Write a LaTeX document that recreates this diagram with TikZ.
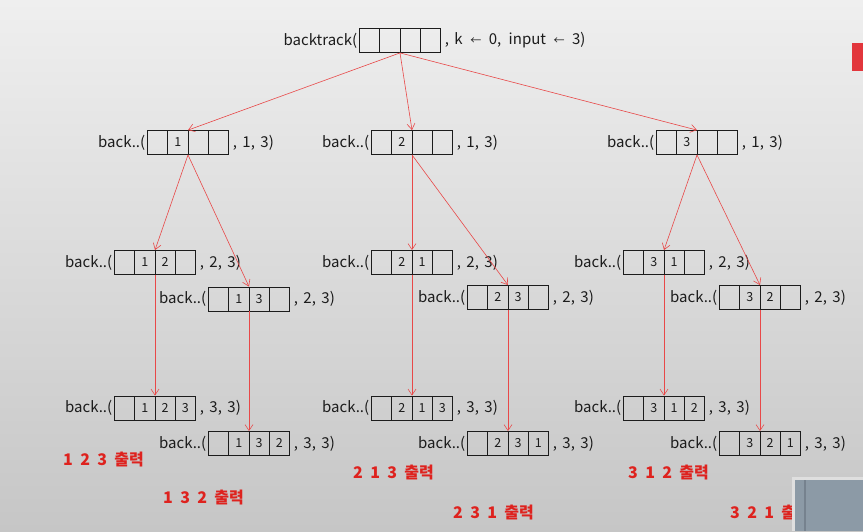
\documentclass[tikz,border=0pt]{standalone}
\usepackage{fontspec}
\setmainfont{Noto Sans CJK KR}
\usetikzlibrary{positioning,shapes.multipart,arrows.meta}

\definecolor{linered}{RGB}{232,72,72}
\definecolor{outred}{RGB}{222,34,30}
\definecolor{txt}{RGB}{28,28,28}
\definecolor{bgtop}{RGB}{239,239,239}
\definecolor{bgmid}{RGB}{232,232,232}
\definecolor{bgbot}{RGB}{198,198,198}
\definecolor{tabred}{RGB}{226,54,60}
\definecolor{panel}{RGB}{140,154,166}
\definecolor{panelline}{RGB}{118,130,142}

\newcommand{\cellbox}[1]{\makebox[19.5pt]{\rule[-8pt]{0pt}{24pt}\fontsize{12.5}{14}\selectfont #1}}
\newcommand{\arr}[4]{\cellbox{#1}\nodepart{two}\cellbox{#2}\nodepart{three}\cellbox{#3}\nodepart{four}\cellbox{#4}}
\newcommand{\assignarrow}{\hspace{2pt}{\fontsize{11}{12}\selectfont ←}\hspace{2pt}}
\newcommand{\callfont}{\fontsize{15}{18}\selectfont\spaceskip=5.5pt plus 1pt\relax}

\begin{document}
\begin{tikzpicture}[x=1pt,y=-1pt,
    slots/.style={draw=txt, line width=0.8pt, rectangle split, rectangle split horizontal, rectangle split parts=4, inner sep=0pt, text=txt},
    call/.style={inner sep=0pt, text=txt, font=\callfont},
    link/.style={draw=linered, line width=0.6pt, -{Straight Barb[length=6pt,width=8pt]}},
    printed/.style={anchor=west, inner sep=0pt, text=outred, font=\fontsize{16}{19}\selectfont\bfseries}]
    \useasboundingbox (0,0) rectangle (863,531);
    \shade[top color=bgtop, middle color=bgmid, bottom color=bgbot] (0,0) rectangle (863,531);

    % Draw first call
    \node[slots] (a) at (400,40.5) {\arr{}{}{}{}};
    \node[call, left=2pt of a] (a-l) {backtrack(};
    \node[call, right=4pt of a] (a-r) {, k \assignarrow{} 0,\hspace{2pt} input \assignarrow{} 3)};

    % Draw calls with k = 1
    \node[slots] (a1) at (188,142.5) {\arr{}{1}{}{}};
    \node[call, left=2pt of a1] (a1-l) {back..(};
    \node[call, right=4pt of a1] (a1-r) {, 1, 3)};
    \node[slots] (a2) at (412,142.5) {\arr{}{2}{}{}};
    \node[call, left=2pt of a2] (a2-l) {back..(};
    \node[call, right=4pt of a2] (a2-r) {, 1, 3)};
    \node[slots] (a3) at (697,142.5) {\arr{}{3}{}{}};
    \node[call, left=2pt of a3] (a3-l) {back..(};
    \node[call, right=4pt of a3] (a3-r) {, 1, 3)};

    % Draw calls with k = 2
    \node[slots] (a12) at (155,262.5) {\arr{}{1}{2}{}};
    \node[call, left=2pt of a12] (a12-l) {back..(};
    \node[call, right=4pt of a12] (a12-r) {, 2, 3)};
    \node[slots] (a13) at (249,299) {\arr{}{1}{3}{}};
    \node[call, left=2pt of a13] (a13-l) {back..(};
    \node[call, right=4pt of a13] (a13-r) {, 2, 3)};
    \node[slots] (a21) at (412,262.5) {\arr{}{2}{1}{}};
    \node[call, left=2pt of a21] (a21-l) {back..(};
    \node[call, right=4pt of a21] (a21-r) {, 2, 3)};
    \node[slots] (a23) at (508,297.5) {\arr{}{2}{3}{}};
    \node[call, left=2pt of a23] (a23-l) {back..(};
    \node[call, right=4pt of a23] (a23-r) {, 2, 3)};
    \node[slots] (a31) at (664,262.5) {\arr{}{3}{1}{}};
    \node[call, left=2pt of a31] (a31-l) {back..(};
    \node[call, right=4pt of a31] (a31-r) {, 2, 3)};
    \node[slots] (a32) at (760,297.5) {\arr{}{3}{2}{}};
    \node[call, left=2pt of a32] (a32-l) {back..(};
    \node[call, right=4pt of a32] (a32-r) {, 2, 3)};

    % Draw calls with k = 3
    \node[slots] (a123) at (155,408) {\arr{}{1}{2}{3}};
    \node[call, left=2pt of a123] (a123-l) {back..(};
    \node[call, right=4pt of a123] (a123-r) {, 3, 3)};
    \node[slots] (a132) at (249,443.5) {\arr{}{1}{3}{2}};
    \node[call, left=2pt of a132] (a132-l) {back..(};
    \node[call, right=4pt of a132] (a132-r) {, 3, 3)};
    \node[slots] (a213) at (412,408) {\arr{}{2}{1}{3}};
    \node[call, left=2pt of a213] (a213-l) {back..(};
    \node[call, right=4pt of a213] (a213-r) {, 3, 3)};
    \node[slots] (a231) at (508,443.5) {\arr{}{2}{3}{1}};
    \node[call, left=2pt of a231] (a231-l) {back..(};
    \node[call, right=4pt of a231] (a231-r) {, 3, 3)};
    \node[slots] (a312) at (664,408) {\arr{}{3}{1}{2}};
    \node[call, left=2pt of a312] (a312-l) {back..(};
    \node[call, right=4pt of a312] (a312-r) {, 3, 3)};
    \node[slots] (a321) at (760,443.5) {\arr{}{3}{2}{1}};
    \node[call, left=2pt of a321] (a321-l) {back..(};
    \node[call, right=4pt of a321] (a321-r) {, 3, 3)};

    % Draw calls
    \draw[link] (a.south) -- (a1.north);
    \draw[link] (a.south) -- (a2.north);
    \draw[link] (a.south) -- (a3.north);

    \draw[link] (a1.south) -- (a12.north);
    \draw[link] (a1.south) -- (a13.north);
    \draw[link] (a2.south) -- (a21.north);
    \draw[link] (a2.south) -- (a23.north);
    \draw[link] (a3.south) -- (a31.north);
    \draw[link] (a3.south) -- (a32.north);

    \draw[link] (a12.south) -- (a123.north);
    \draw[link] (a13.south) -- (a132.north);
    \draw[link] (a21.south) -- (a213.north);
    \draw[link] (a23.south) -- (a231.north);
    \draw[link] (a31.south) -- (a312.north);
    \draw[link] (a32.south) -- (a321.north);

    % Draw printed results
    \node[printed] (out123) at (63,460) {1\ \ 2\ \ 3\ \ 출력};
    \node[printed] (out132) at (163,498) {1\ \ 3\ \ 2\ \ 출력};
    \node[printed] (out213) at (353,473) {2\ \ 1\ \ 3\ \ 출력};
    \node[printed] (out231) at (453,513) {2\ \ 3\ \ 1\ \ 출력};
    \node[printed] (out312) at (628,473) {3\ \ 1\ \ 2\ \ 출력};
    \node[printed] (out321) at (730,513) {3\ \ 2\ \ 1\ \ 출력};

    % Screen overlays
    \fill[tabred] (852,43) rectangle (863,71);
    \fill[gray!25] (792,477) rectangle (863,531);
    \fill[panel] (795,480) rectangle (863,531);
    \draw[panelline, line width=1.5pt] (805,480) -- (805,531);
\end{tikzpicture}
\end{document}
